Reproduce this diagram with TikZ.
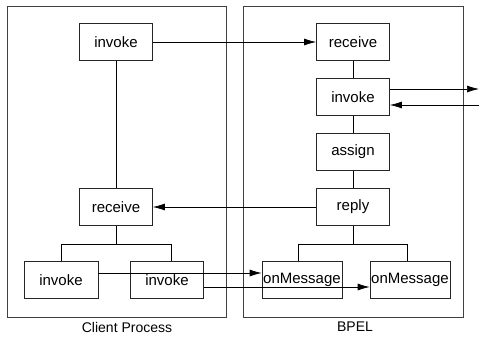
\documentclass[tikz,border=0pt]{standalone}
\usepackage{fontspec}
\setmainfont{Liberation Sans}
\usetikzlibrary{arrows.meta}
\def\clientarea{(7,6) rectangle (226,317)}
\def\bpelarea{(243,6) rectangle (463,317)}
\colorlet{box edge}{black!85}
\colorlet{area edge}{black!75}
\tikzset{activity/.style={draw=box edge, line width=0.7pt, minimum width=73pt, minimum height=37pt, inner sep=1pt, font=\fontsize{15}{17}\selectfont},
    wideact/.style={activity, minimum width=80pt},
    link/.style={draw=black, line width=0.7pt},
    msg/.style={link, -{Latex[length=12pt,width=7pt]}},
    outline/.style={draw=area edge, line width=0.8pt}}

\begin{document}
\begin{tikzpicture}[x=1pt, y=-1pt, font=\fontsize{14}{16}\selectfont]
 \useasboundingbox (0,0) rectangle (479,338);

 \draw[outline] \clientarea;
 \draw[outline] \bpelarea;
 \node (clientlbl) at (127,327) {Client Process};
 \node (bpellbl) at (355,327) {BPEL};

 % client side
 \node[activity] (cinv) at (116,42) {invoke};
 \node[activity] (crec) at (116,207) {receive};
 \node[activity, minimum width=74pt] (cinvA) at (61,280) {invoke};
 \node[activity] (cinvB) at (167,280) {invoke};

 % bpel side
 \node[activity] (brec) at (353,42) {receive};
 \node[activity] (binv) at (353,97) {invoke};
 \node[activity] (bas) at (353,152) {assign};
 \node[activity] (brep) at (353,207) {reply};
 \node[wideact] (onmA) at (302,280) {onMessage};
 \node[wideact] (onmB) at (410,280) {onMessage};

 \coordinate (partnerout) at (479,89);
 \coordinate (partnerin) at (479,105);
 \coordinate (cfork) at (116,244);
 \coordinate (bfork) at (353,244);

 % sequence lines
 \draw[link] (cinv) -- (crec);
 \draw[link] (brec) -- (binv);
 \draw[link] (binv) -- (bas);
 \draw[link] (bas) -- (brep);
 \draw[link] (crec) -- (cfork);
 \draw[link] (cfork -| 61,0) -- (cfork -| 171,0);
 \draw[link] (cfork -| 61,0) -- (cinvA.north -| 61,0);
 \draw[link] (cfork -| 171,0) -- (cinvB.north -| 171,0);
 \draw[link] (brep) -- (bfork);
 \draw[link] (bfork -| 298,0) -- (bfork -| 407,0);
 \draw[link] (bfork -| 298,0) -- (onmA.north -| 298,0);
 \draw[link] (bfork -| 407,0) -- (onmB.north -| 407,0);

 % messages
 \draw[msg] (cinv) -- (brec);
 \draw[msg] (brep) -- (crec);
 \draw[msg] (binv.east |- partnerout) -- (partnerout);
 \draw[msg] (partnerin) -- (binv.east |- partnerin);
 \draw[msg] ([yshift=7pt]cinvA.east) -- ([yshift=7pt]onmA.west);
 \draw[msg] ([yshift=-7pt]cinvB.east) -- ([yshift=-7pt]onmB.west);

\end{tikzpicture}
\end{document}
